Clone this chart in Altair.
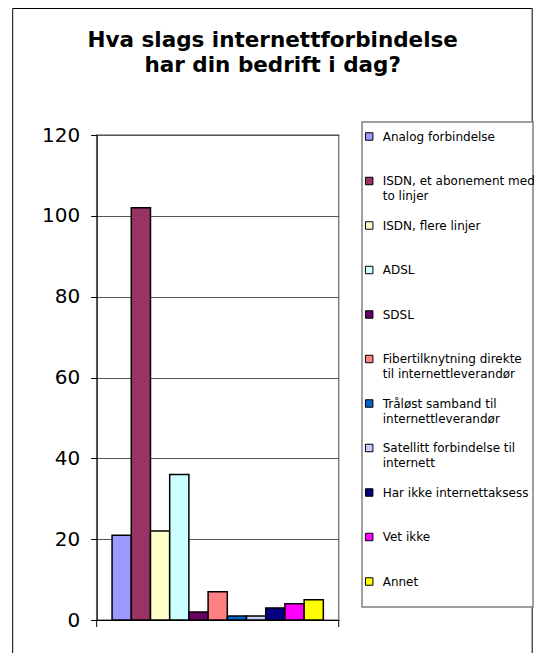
import altair as alt
import pandas as pd

categories = [
    "Analog forbindelse",
    "ISDN, et abonement med to linjer",
    "ISDN, flere linjer",
    "ADSL",
    "SDSL",
    "Fibertilknytning direkte til internettleverandør",
    "Tråløst samband til internettleverandør",
    "Satellitt forbindelse til internett",
    "Har ikke internettaksess",
    "Vet ikke",
    "Annet",
]
values = [21, 102, 22, 36, 2, 7, 1, 1, 3, 4, 5]
colors = ["#9999FF", "#993366", "#FFFFCC", "#CCFFFF", "#660066", "#FF8080",
          "#0066CC", "#CCCCFF", "#000080", "#FF00FF", "#FFFF00"]
legend_labels = [
    "Analog forbindelse",
    "ISDN, et abonement med\nto linjer",
    "ISDN, flere linjer",
    "ADSL",
    "SDSL",
    "Fibertilknytning direkte\ntil internettleverandør",
    "Tråløst samband til\ninternettleverandør",
    "Satellitt forbindelse til\ninternett",
    "Har ikke internettaksess",
    "Vet ikke",
    "Annet",
]
y_ticks = [0, 20, 40, 60, 80, 100, 120]
title_lines = ["Hva slags internettforbindelse", "har din bedrift i dag?"]

df = pd.DataFrame({"cat": categories, "value": values, "label": legend_labels})
one = pd.DataFrame({"k": [0]})

W, H = 242, 485
PAD_L, PAD_T = 88.7, 127
TOTAL_W, TOTAL_H = 526, 645
color_scale = alt.Scale(domain=categories, range=colors)

bars = alt.Chart(df).mark_bar(stroke="black", strokeWidth=1.5).encode(
    x=alt.X("cat:N", sort=categories,
            scale=alt.Scale(paddingInner=0, paddingOuter=0.8),
            axis=alt.Axis(labels=False, ticks=False, title=None, domainColor="black",
                          domainWidth=1, grid=False)),
    y=alt.Y("value:Q", scale=alt.Scale(domain=[0, 120], nice=False),
            axis=alt.Axis(values=y_ticks, title=None, labelFontSize=20, labelFont="DejaVu Sans",
                          labelColor="black", labelPadding=11, tickSize=6, tickColor="black",
                          domainColor="black", gridColor="#555555", gridWidth=1)),
    color=alt.Color("cat:N", scale=color_scale, legend=None),
)

# outer chart frame
frame = alt.Chart(one).mark_rect(filled=False, stroke="black", strokeWidth=1).encode(
    x=alt.value(-84), x2=alt.value(435.5), y=alt.value(-126.5), y2=alt.value(600)
)

end_ticks = alt.Chart(pd.DataFrame({"k": [0, 1]})).mark_rule(color="black", strokeWidth=1).encode(
    x=alt.X("k:Q", scale=alt.Scale(domain=[0, 1], range=[0, W]), axis=None),
    y=alt.value(H), y2=alt.value(H + 7)
)

box = alt.Chart(one).mark_rect(fill="white", stroke="#808080", strokeWidth=1.5).encode(
    x=alt.value(265.3), x2=alt.value(436.3), y=alt.value(-13), y2=alt.value(472)
)

legend_y = alt.Y("cat:N", sort=categories,
                 scale=alt.Scale(type="point", range=[1.5, 446.5], padding=0), axis=None)

squares = alt.Chart(df).mark_square(size=56, stroke="black", strokeWidth=1, opacity=1).encode(
    x=alt.value(272.5), y=legend_y,
    color=alt.Color("cat:N", scale=color_scale, legend=None),
)

texts = alt.Chart(df).mark_text(align="left", baseline="top", dy=-5, lineBreak="\n",
                                lineHeight=15, fontSize=12, font="DejaVu Sans",
                                color="black").encode(
    x=alt.value(286), y=legend_y, text="label:N"
)

chart = alt.layer(frame, bars, end_ticks, box, squares, texts).resolve_scale(
    y="independent", x="independent"
).properties(
    width=W, height=H,
    title=alt.TitleParams(title_lines, fontSize=21.5, font="DejaVu Sans", fontWeight="bold",
                          anchor="middle", frame="group", dx=55, offset=-68, lineHeight=25,
                          color="black"),
    autosize=alt.AutoSizeParams(type="none"),
    padding={"left": PAD_L, "top": PAD_T, "right": TOTAL_W - PAD_L - W,
             "bottom": TOTAL_H - PAD_T - H},
).configure_view(stroke="#808080", strokeWidth=1.5)

chart.save("out.html", embed_options={"renderer": "svg", "actions": False})
